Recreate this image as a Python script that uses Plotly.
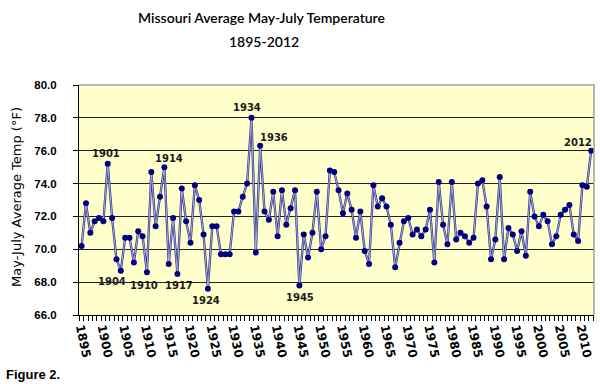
import plotly.graph_objects as go

years = list(range(1895, 2013))
temps = [
    70.2, 72.8, 71.0, 71.7, 71.9, 71.7, 75.2, 71.9, 69.4, 68.7,   # 1895-1904
    70.7, 70.7, 69.2, 71.1, 70.8, 68.6, 74.7, 71.4, 73.2, 75.0,   # 1905-1914
    69.1, 71.9, 68.5, 73.7, 71.7, 70.4, 73.9, 73.0, 70.9, 67.6,   # 1915-1924
    71.4, 71.4, 69.7, 69.7, 69.7, 72.3, 72.3, 73.2, 74.0, 78.0,   # 1925-1934
    69.8, 76.3, 72.3, 71.8, 73.5, 70.8, 73.6, 71.5, 72.5, 73.6,   # 1935-1944
    67.8, 70.9, 69.5, 71.0, 73.5, 70.0, 70.8, 74.8, 74.7, 73.6,   # 1945-1954
    72.2, 73.4, 72.4, 70.7, 72.3, 69.9, 69.1, 73.9, 72.6, 73.1,   # 1955-1964
    72.6, 71.5, 68.9, 70.4, 71.7, 71.9, 70.9, 71.2, 70.8, 71.2,   # 1965-1974
    72.4, 69.2, 74.1, 71.5, 70.3, 74.1, 70.6, 71.0, 70.8, 70.4,   # 1975-1984
    70.7, 74.0, 74.2, 72.6, 69.4, 70.6, 74.4, 69.4, 71.3, 70.9,   # 1985-1994
    69.9, 71.1, 69.6, 73.5, 72.0, 71.4, 72.1, 71.7, 70.3, 70.8,   # 1995-2004
    72.1, 72.4, 72.7, 70.9, 70.5, 73.9, 73.8, 76.0,               # 2005-2012
]
label_years = [1901, 1914, 1934, 1936, 1904, 1910, 1917, 1924, 1945, 2012]
y_ticks = [66, 68, 70, 72, 74, 76, 78, 80]

# label offsets (pixels) -- styling
label_shift = {
    1901: (-2, 10), 1914: (5, 9), 1934: (-4, 10), 1936: (14, 8),
    1904: (-9, -11), 1910: (-3, -13), 1917: (2, -12), 1924: (-2, -12),
    1945: (1, -12), 2012: (-13, 8),
}

W, H = 600, 384
ml, mr, mt, mb = 79, 6, 85, 69
pw, ph = W - ml - mr, H - mt - mb

def px_x(p):
    return (p - ml) / pw

def px_y(p):
    return (H - mb - p) / ph

fig = go.Figure()
fig.add_trace(go.Scatter(
    x=years, y=temps, mode="lines",
    line=dict(color="#2e2e92", width=2.3),
    hoverinfo="skip", showlegend=False,
))
fig.add_trace(go.Scatter(
    x=years, y=temps, mode="lines+markers",
    line=dict(color="#b8badd", width=0.9),
    marker=dict(color="#000080", size=6, line=dict(width=0)),
    showlegend=False,
))

annotations = []
for yr in label_years:
    dx, dy = label_shift[yr]
    annotations.append(dict(
        x=yr, y=temps[years.index(yr)], xref="x", yref="y",
        text=str(yr), showarrow=False, xshift=dx, yshift=dy,
        font=dict(family="DejaVu Sans", size=10, color="#1a1a1a", weight="bold"),
    ))

title_font = dict(family="Lato", size=14, color="#000000", weight=600)
annotations += [
    dict(text="Missouri Average May-July Temperature", xref="paper", yref="paper",
         x=px_x(261), y=px_y(18), xanchor="center", yanchor="middle",
         showarrow=False, font=title_font),
    dict(text="1895-2012", xref="paper", yref="paper",
         x=px_x(264), y=px_y(41), xanchor="center", yanchor="middle",
         showarrow=False, font=title_font),
    dict(text="May-July Average Temp (°F)", xref="paper", yref="paper",
         x=px_x(16), y=px_y(197), xanchor="center", yanchor="middle",
         textangle=-90, showarrow=False,
         font=dict(family="DejaVu Sans", size=13, color="#000000")),
    dict(text="Figure 2.", xref="paper", yref="paper",
         x=px_x(4), y=px_y(374), xanchor="left", yanchor="middle",
         showarrow=False,
         font=dict(family="Liberation Sans Narrow, Liberation Sans", size=13,
                   color="#000000", weight="bold")),
]

fig.update_layout(
    width=W, height=H,
    margin=dict(l=ml, r=mr, t=mt, b=mb, pad=0),
    paper_bgcolor="white",
    plot_bgcolor="#FFFFCC",
    annotations=annotations,
    shapes=[dict(type="path", xref="paper", yref="paper",
                 path="M 0 1 L 1 1 L 1 0", line=dict(color="#a0a0a0", width=1.5),
                 layer="above")],
)

fig.update_xaxes(
    range=[1894.4, 2012.65],
    tick0=1895, dtick=5, ticks="", tickangle=78,
    tickfont=dict(family="DejaVu Sans", size=12, color="#000000", weight="bold"),
    showgrid=False, zeroline=False,
    showline=True, linecolor="#000000", linewidth=1,
    minor=dict(ticks="outside", ticklen=5, tick0=1894.5, dtick=1,
               tickcolor="#000000", tickwidth=1, showgrid=False),
)
fig.update_yaxes(
    range=[66, 80], tickvals=y_ticks,
    ticktext=[f"{v:.1f}" for v in y_ticks],
    ticks="outside", ticklen=5, tickcolor="#000000",
    ticklabelstandoff=14,
    tickfont=dict(family="Liberation Sans", size=11.5, color="#000000", weight="bold"),
    showgrid=True, gridcolor="#222222", gridwidth=1,
    zeroline=False,
    showline=True, linecolor="#000000", linewidth=1,
)

fig.write_html(
    "out.html",
    config={"displayModeBar": False},
    post_script="document.body.style.margin='0';document.body.style.padding='0';",
)
